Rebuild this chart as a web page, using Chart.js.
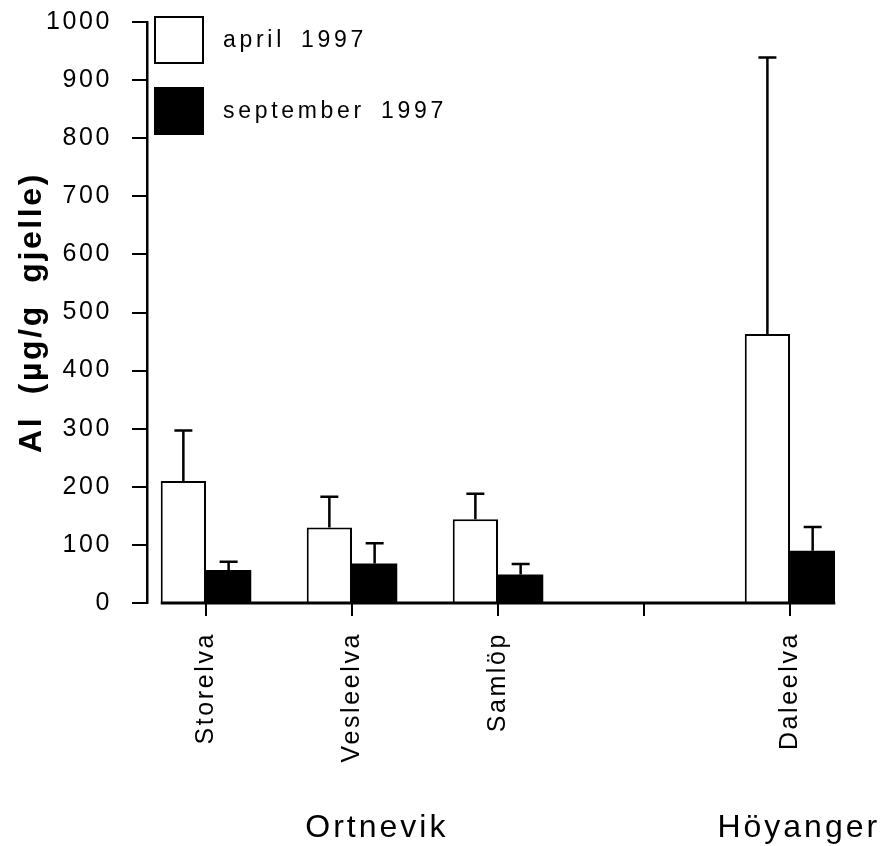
<!DOCTYPE html>
<html>
<head>
<meta charset="utf-8">
<script src="https://cdn.jsdelivr.net/npm/chart.js@4"></script>
<style>
  html, body { margin: 0; padding: 0; background: #fff; }
  canvas { display: block; }
</style>
</head>
<body>
<canvas id="chart" width="883" height="846"></canvas>
<script>
// values (Al in gills, µg/g), index 3 is the empty gap on the axis
const categories = ['Storelva', 'Vesleelva', 'Samlöp', '', 'Daleelva'];
const april = [210, 130, 144, null, 463];
const aprilErr = [87, 53, 44, null, 476];
const september = [57, 68, 49, null, 90];
const septemberErr = [14, 35, 18, null, 41];
const seriesLabels = ['april 1997', 'september 1997'];

const groups = ['Ortnevik', 'Höyanger'];
const groupPos = [1.17, 4.06];

const yMin = 0;
const yMax = 1000;
const yStep = 100;

const family = '"Liberation Sans", Arial, Helvetica, sans-serif';

// wide letter spacing like the old print
const spacing = {
  id: 'spacing',
  beforeUpdate(chart) {
    chart.ctx.letterSpacing = '2.6px';
    chart.ctx.wordSpacing = '10px';
  },
  beforeDraw(chart) {
    chart.ctx.letterSpacing = '2.6px';
    chart.ctx.wordSpacing = '10px';
  }
};

const errorBars = {
  id: 'errorBars',
  afterDatasetsDraw(chart) {
    const ctx = chart.ctx;
    const yScale = chart.scales.y;
    const errs = [aprilErr, septemberErr];
    ctx.save();
    ctx.strokeStyle = '#000';
    ctx.lineWidth = 2.5;
    chart.data.datasets.forEach((ds, d) => {
      const meta = chart.getDatasetMeta(d);
      meta.data.forEach((bar, i) => {
        const v = ds.data[i].y;
        const e = errs[d][i];
        if (v == null || e == null) return;
        const top = yScale.getPixelForValue(v + e);
        ctx.beginPath();
        ctx.moveTo(bar.x, bar.y);
        ctx.lineTo(bar.x, top);
        ctx.moveTo(bar.x - 9, top);
        ctx.lineTo(bar.x + 9, top);
        ctx.stroke();
      });
    });

    // the x axis line only runs under the bars
    const first = chart.getDatasetMeta(0).data[0];
    const lastMeta = chart.getDatasetMeta(1).data;
    const last = lastMeta[lastMeta.length - 1];
    const yb = chart.chartArea.bottom;
    ctx.lineWidth = 3;
    ctx.beginPath();
    ctx.moveTo(first.x - first.width / 2, yb);
    ctx.lineTo(last.x + last.width / 2, yb);
    ctx.stroke();
    ctx.restore();
  }
};

const extras = {
  id: 'extras',
  afterDraw(chart) {
    const ctx = chart.ctx;
    const area = chart.chartArea;
    const xScale = chart.scales.x;
    ctx.save();

    // legend
    ctx.letterSpacing = '3.7px';
    ctx.wordSpacing = '6px';
    ctx.font = '23px ' + family;
    ctx.textBaseline = 'middle';
    ctx.textAlign = 'left';
    chart.data.datasets.forEach((ds, d) => {
      const bx = area.left + 8;
      const by = area.top - 5 + d * 71;
      ctx.fillStyle = ds.backgroundColor;
      ctx.fillRect(bx, by, 48, 46);
      ctx.strokeStyle = '#000';
      ctx.lineWidth = 2;
      ctx.strokeRect(bx, by, 48, 46);
      ctx.fillStyle = '#000';
      ctx.fillText(ds.label, bx + 68, by + 24);
    });

    // site groups under the axis
    ctx.letterSpacing = '3px';
    ctx.font = '32px ' + family;
    ctx.textAlign = 'center';
    ctx.textBaseline = 'alphabetic';
    groups.forEach((g, i) => {
      ctx.fillText(g, xScale.getPixelForValue(groupPos[i]), 837);
    });
    ctx.restore();
  }
};

new Chart(document.getElementById('chart'), {
  type: 'bar',
  data: {
    datasets: [
      {
        label: seriesLabels[0],
        data: categories.map((c, i) => ({ x: i, y: april[i] })),
        backgroundColor: '#ffffff',
        borderColor: '#000000',
        borderWidth: 2,
      },
      {
        label: seriesLabels[1],
        data: categories.map((c, i) => ({ x: i, y: september[i] })),
        backgroundColor: '#000000',
        borderColor: '#000000',
        borderWidth: 0,
      },
    ],
  },
  options: {
    responsive: false,
    animation: false,
    categoryPercentage: 0.62,
    barPercentage: 1.0,
    layout: { padding: { top: 22, right: 48, left: 0, bottom: 0 } },
    plugins: {
      legend: { display: false },
      tooltip: { enabled: false },
    },
    scales: {
      x: {
        type: 'linear',
        min: -0.404,
        max: 4.308,
        offset: false,
        afterBuildTicks: (scale) => {
          scale.ticks = categories.map((c, i) => ({ value: i }));
        },
        afterFit: (scale) => {
          scale.height = 243;
          scale.paddingLeft = 0;
          scale.paddingRight = 0;
        },
        grid: {
          offset: false,
          drawOnChartArea: false,
          drawTicks: true,
          tickLength: 13,
          color: '#000',
          lineWidth: 2,
        },
        border: { display: false },
        ticks: {
          autoSkip: false,
          minRotation: 90,
          maxRotation: 90,
          padding: 16,
          color: '#000',
          font: { size: 25, family: family },
          callback: (value) => categories[value],
        },
      },
      y: {
        min: yMin,
        max: yMax,
        afterFit: (scale) => {
          scale.width = 147;
          scale.paddingTop = 0;
          scale.paddingBottom = 0;
        },
        grid: {
          drawOnChartArea: false,
          drawTicks: true,
          tickLength: 15,
          color: '#000',
          lineWidth: 2,
        },
        border: { display: true, color: '#000', width: 2.5 },
        ticks: {
          stepSize: yStep,
          padding: 20,
          color: '#000',
          font: { size: 25, family: family },
          callback: (value) => String(value),
        },
        title: {
          display: true,
          text: 'Al (µg/g gjelle)',
          color: '#000',
          font: { size: 32, weight: 'bold', family: family },
          padding: { top: 13, bottom: 0 },
        },
      },
    },
  },
  plugins: [spacing, errorBars, extras],
});
</script>
</body>
</html>
